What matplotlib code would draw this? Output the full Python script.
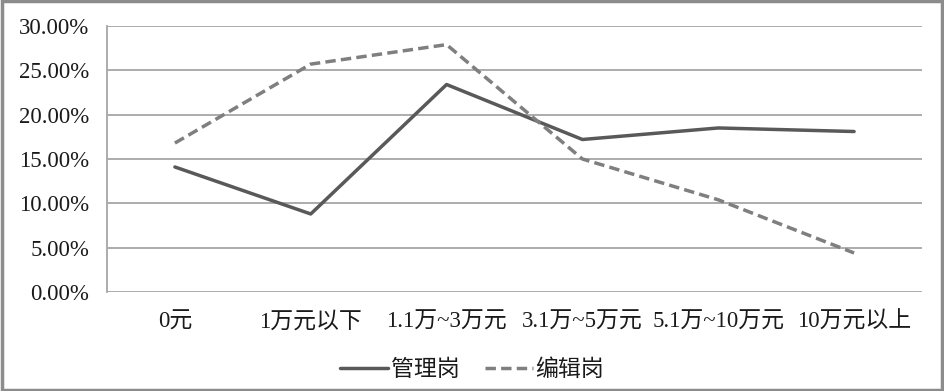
import matplotlib
matplotlib.use("Agg")
import matplotlib.pyplot as plt
from matplotlib.ticker import FuncFormatter

plt.rcParams["font.family"] = ["Liberation Serif", "Noto Sans CJK SC"]

categories = ["0元", "1万元以下", "1.1万~3万元", "3.1万~5万元", "5.1万~10万元", "10万元以上"]
manage = [14.1, 8.8, 23.4, 17.2, 18.5, 18.1]
editor = [16.8, 25.7, 27.9, 15.0, 10.4, 4.4]
series_names = ["管理岗", "编辑岗"]

fig = plt.figure(figsize=(9.44, 3.91), dpi=100)
ax = fig.add_axes([107 / 944, 1 - 292 / 391, 815 / 944, 266 / 391])

x = range(len(categories))
ax.plot(x, manage, color="#595959", lw=2.5, solid_capstyle="round",
        label=series_names[0], zorder=3)
ax.plot(x, editor, color="#7f7f7f", lw=2.5, ls=(0, (3.0, 1.5)),
        dash_capstyle="butt", label=series_names[1], zorder=3)

ax.set_xlim(-0.5, len(categories) - 0.5)
ax.set_ylim(0, 30)
ax.set_yticks(range(0, 31, 5))
ax.yaxis.set_major_formatter(FuncFormatter(lambda v, p: f"{v:.2f}%"))
ax.set_xticks(list(x))
ax.set_xticklabels(categories)
ax.grid(axis="y", color="#a6a6a6", lw=1.3)
ax.set_axisbelow(True)
for s in ["top", "right", "bottom"]:
    ax.spines[s].set_visible(False)
ax.spines["left"].set_color("#a6a6a6")
ax.spines["left"].set_linewidth(1.3)
ax.tick_params(length=0, labelsize=16.5, colors="#1a1a1a")
ax.tick_params(axis="y", pad=13)
ax.tick_params(axis="x", pad=14)

leg = fig.legend(loc="center", bbox_to_anchor=(0.5, 1 - 370 / 391), ncol=2,
                 frameon=False, fontsize=16.5, handlelength=2.1,
                 handletextpad=0.1, columnspacing=1.1)
for t in leg.get_texts():
    t.set_color("#1a1a1a")

fig.patches.append(plt.Rectangle((0.002, 0.003), 0.996, 0.994, transform=fig.transFigure,
                                 fill=False, ec="#8c8c8c", lw=2.5))
fig.savefig("out.png", dpi=100)
